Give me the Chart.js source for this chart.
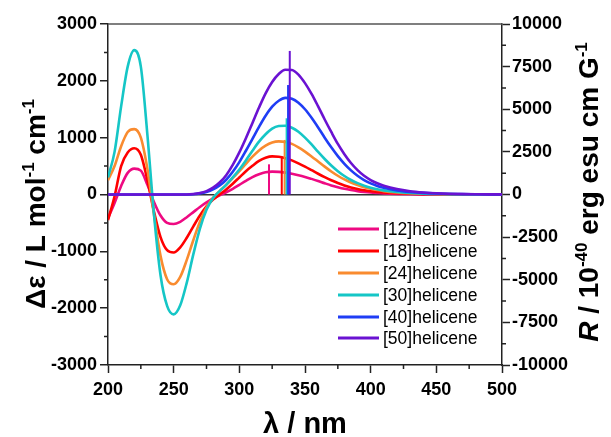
<!DOCTYPE html>
<html>
<head>
<meta charset="utf-8">
<script src="https://cdn.jsdelivr.net/npm/chart.js@4"></script>
<style>
  html, body { margin: 0; padding: 0; background: #fff; }
</style>
</head>
<body>
<canvas id="myChart" width="611" height="437"></canvas>
<script>
const FONT = "'Liberation Sans', Arial, sans-serif";

// series names + colours
const seriesLabels = ["[12]helicene", "[18]helicene", "[24]helicene", "[30]helicene", "[40]helicene", "[50]helicene"];
const seriesColors = ["#EE0A82", "#FF0000", "#F98B2F", "#15C6C6", "#1F3DF5", "#6A12D2"];

// wavelength grid (nm)
const wavelengths = [
  200, 205, 210, 215, 220, 225, 230, 235, 240, 245,
  250, 255, 260, 265, 270, 275, 280, 285, 290, 295,
  300, 305, 310, 315, 320, 325, 330, 335, 340, 345,
  350, 355, 360, 365, 370, 375, 380, 385, 390, 395,
  400, 405, 410,
  420, 430, 440, 450, 460, 470, 480, 490, 500
];

// delta epsilon (L mol-1 cm-1)
const cd12 = [
  -420, -150, 150, 380, 455, 420, 170, -130, -370, -500,
  -520, -480, -400, -310, -220, -140, -70, -15, 40, 100,
  170, 240, 305, 355, 390, 402, 398, 385, 365, 340,
  310, 275, 238, 198, 160, 128, 100, 78, 60, 46,
  35, 27, 20,
  11, 6, 3, 1, 0, 0, 0, 0, 0
];
const cd18 = [
  -450, -30, 500, 740, 815, 700, 250, -300, -750, -980,
  -1020, -930, -760, -560, -370, -210, -90, 0, 90, 190,
  300, 410, 505, 590, 645, 670, 665, 640, 600, 548,
  490, 428, 365, 305, 250, 202, 160, 125, 97, 75,
  58, 45, 35,
  21, 12, 7, 4, 2, 1, 0, 0, 0
];
const cd24 = [
  250, 500, 850, 1100, 1150, 1000, 450, -350, -1080, -1490,
  -1580, -1450, -1150, -800, -480, -230, -60, 60, 170, 290,
  410, 540, 665, 775, 860, 915, 935, 925, 890, 830,
  755, 670, 580, 490, 405, 330, 265, 210, 165, 128,
  100, 78, 60,
  37, 22, 13, 8, 5, 3, 2, 1, 0
];
const cd30 = [
  300, 750, 1550, 2250, 2540, 2250, 1050, -350, -1420, -1960,
  -2110, -1950, -1550, -1050, -600, -270, -60, 60, 170, 300,
  440, 600, 770, 930, 1060, 1160, 1205, 1210, 1175, 1105,
  1000, 880, 750, 625, 510, 410, 325, 255, 200, 155,
  120, 93, 72,
  44, 27, 16, 10, 6, 4, 2, 1, 0
];
const cd40 = [
  0, 0, 0, 0, 0, 0, 0, 0, 0, 0,
  0, 0, 0, 5, 20, 45, 90, 160, 260, 400,
  570, 770, 980, 1190, 1385, 1545, 1650, 1700, 1685, 1615,
  1500, 1350, 1180, 1000, 830, 675, 540, 425, 330, 255,
  195, 150, 118,
  72, 45, 28, 17, 10, 6, 4, 2, 1
];
const cd50 = [
  0, 0, 0, 0, 0, 0, 0, 0, 0, 0,
  0, 0, 0, 8, 25, 60, 120, 210, 340, 520,
  740, 990, 1260, 1530, 1780, 1980, 2120, 2195, 2190, 2110,
  1960, 1770, 1550, 1320, 1100, 890, 710, 555, 430, 330,
  255, 198, 155,
  95, 58, 36, 22, 13, 8, 5, 3, 2
];

// rotatory strength sticks (10^-40 erg esu cm G-1)
const stickWavelengths = [322.6, 332.3, 334.5, 336.0, 337.1, 338.4];
const stickStrengths = [1770, 2160, 3200, 4470, 6420, 8420];

const curves = [cd12, cd18, cd24, cd30, cd40, cd50];

const datasets = [];
curves.forEach((vals, i) => {
  datasets.push({
    label: seriesLabels[i],
    data: wavelengths.map((w, j) => ({ x: w, y: vals[j] })),
    borderColor: seriesColors[i],
    borderWidth: 2.6,
    pointRadius: 0,
    cubicInterpolationMode: 'monotone',
    yAxisID: 'y',
    order: 20 - i,
    isCurve: true
  });
});
stickWavelengths.forEach((w, i) => {
  datasets.push({
    label: seriesLabels[i] + ' R',
    data: [{ x: w, y: 0 }, { x: w, y: stickStrengths[i] }],
    borderColor: seriesColors[i],
    borderWidth: 2,
    pointRadius: 0,
    yAxisID: 'y1',
    order: 10 - i
  });
});

// draw a run of text parts, some raised as superscripts
function drawParts(ctx, parts, size) {
  const big = "bold " + size + "px " + FONT;
  const small = "bold " + Math.round(size * 0.62) + "px " + FONT;
  let total = 0;
  parts.forEach(p => {
    ctx.font = p.sup ? small : (p.italic ? "italic " + big : big);
    p.w = ctx.measureText(p.t).width;
    total += p.w;
  });
  let x = -total / 2;
  parts.forEach(p => {
    ctx.font = p.sup ? small : (p.italic ? "italic " + big : big);
    ctx.fillText(p.t, x, p.sup ? -size * 0.4 : 0);
    x += p.w;
  });
}

const extras = {
  id: 'extras',
  afterDraw(chart) {
    const ctx = chart.ctx;
    const area = chart.chartArea;
    ctx.save();

    // top frame line
    ctx.strokeStyle = '#555';
    ctx.lineWidth = 1.5;
    ctx.beginPath();
    ctx.moveTo(area.left, area.top);
    ctx.lineTo(area.right, area.top);
    ctx.stroke();

    // minor ticks
    ctx.strokeStyle = '#222';
    const sx = chart.scales.x, sy = chart.scales.y, sy1 = chart.scales.y1;
    ctx.beginPath();
    sx.ticks.forEach(t => {
      if (t.value % 50 !== 0) {
        const p = sx.getPixelForValue(t.value);
        ctx.moveTo(p, area.bottom); ctx.lineTo(p, area.bottom + 4);
      }
    });
    sy.ticks.forEach(t => {
      if (t.value % 1000 !== 0) {
        const p = sy.getPixelForValue(t.value);
        ctx.moveTo(area.left, p); ctx.lineTo(area.left - 4, p);
      }
    });
    sy1.ticks.forEach(t => {
      if (t.value % 2500 !== 0) {
        const p = sy1.getPixelForValue(t.value);
        ctx.moveTo(area.right, p); ctx.lineTo(area.right + 4, p);
      }
    });
    ctx.stroke();

    // axis titles
    ctx.fillStyle = '#000';
    ctx.textBaseline = 'alphabetic';
    ctx.textAlign = 'left';
    ctx.save();
    ctx.translate(45, 204);
    ctx.rotate(-Math.PI / 2);
    drawParts(ctx, [{ t: "\u0394\u03b5 / L mol" }, { t: "-1", sup: true }, { t: " cm" }, { t: "-1", sup: true }], 28);
    ctx.restore();

    ctx.save();
    ctx.translate(598, 192);
    ctx.rotate(-Math.PI / 2);
    drawParts(ctx, [{ t: "R", italic: true }, { t: " / 10" }, { t: "-40", sup: true }, { t: " erg esu cm G" }, { t: "-1", sup: true }], 28);
    ctx.restore();

    ctx.save();
    ctx.translate(305, 433);
    drawParts(ctx, [{ t: "\u03bb / nm" }], 29);
    ctx.restore();

    // legend
    const rowY = [229, 251, 273, 295, 317, 338];
    ctx.font = "17.5px " + FONT;
    ctx.textBaseline = 'middle';
    chart.data.datasets.filter(d => d.isCurve).forEach((d, i) => {
      ctx.strokeStyle = d.borderColor;
      ctx.lineWidth = 3;
      ctx.beginPath();
      ctx.moveTo(338, rowY[i]);
      ctx.lineTo(379, rowY[i]);
      ctx.stroke();
      ctx.fillStyle = '#000';
      ctx.fillText(d.label, 383, rowY[i] + 1);
    });
    ctx.restore();
  }
};

const tickFont = { family: FONT, size: 18, weight: 'bold' };

new Chart("myChart", {
  type: 'line',
  data: { datasets: datasets },
  options: {
    responsive: false,
    animation: false,
    devicePixelRatio: 1,
    layout: { padding: { top: 24, left: 0, right: 0, bottom: 0 } },
    plugins: { legend: { display: false }, tooltip: { enabled: false } },
    scales: {
      x: {
        type: 'linear', position: 'bottom', min: 200, max: 500,
        afterFit: s => { s.height = 72; },
        ticks: {
          stepSize: 25, autoSkip: false, maxRotation: 0, padding: 6, color: '#000', font: tickFont,
          callback: v => (v % 50 === 0 ? String(v) : '')
        },
        grid: {
          color: 'transparent', tickLength: 8, tickWidth: 1.5,
          tickColor: c => (c.tick && c.tick.value % 50 === 0 ? '#222' : 'transparent')
        },
        border: { color: '#222', width: 1.5 }
      },
      y: {
        type: 'linear', position: 'left', min: -3000, max: 3000,
        afterFit: s => { s.width = 108; },
        ticks: {
          stepSize: 500, autoSkip: false, padding: 3, color: '#000', font: tickFont,
          callback: v => (v % 1000 === 0 ? String(v) : '')
        },
        grid: {
          color: c => (c.tick && c.tick.value === 0 ? '#333' : 'transparent'),
          lineWidth: 1.5, tickLength: 8, tickWidth: 1.5,
          tickColor: c => (c.tick && c.tick.value % 1000 === 0 ? '#222' : 'transparent')
        },
        border: { color: '#222', width: 1.5 }
      },
      y1: {
        type: 'linear', position: 'right', min: -10000, max: 10000,
        afterFit: s => { s.width = 109; },
        ticks: {
          stepSize: 1250, autoSkip: false, padding: 2, color: '#000', font: tickFont,
          callback: v => (v % 2500 === 0 ? String(v) : '')
        },
        grid: {
          drawOnChartArea: false, tickLength: 8, tickWidth: 1.5,
          tickColor: c => (c.tick && c.tick.value % 2500 === 0 ? '#222' : 'transparent')
        },
        border: { color: '#222', width: 1.5 }
      }
    }
  },
  plugins: [extras]
});
</script>
</body>
</html>
